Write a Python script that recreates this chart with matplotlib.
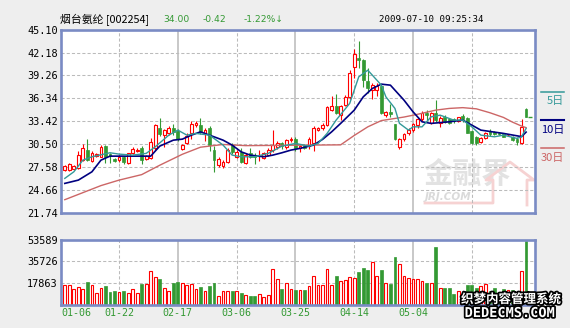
import numpy as np
import matplotlib
matplotlib.use('agg')
from matplotlib import pyplot as plt
from matplotlib.lines import Line2D
from matplotlib.transforms import blended_transform_factory
import matplotlib.patheffects as pe

plt.rcParams['font.family'] = ['DejaVu Sans', 'Noto Sans CJK SC']

# daily K-line 烟台氨纶 [002254]
opens = [27.18, 27.18, 27.30, 27.40, 28.45, 29.80, 28.30, 29.00, 28.90, 30.20,
         29.20, 28.60, 28.45, 28.80, 28.10, 29.30, 29.60, 30.05, 28.65, 28.70,
         30.00, 32.60, 31.65, 31.85, 32.50, 32.15, 29.90, 30.60, 31.85, 32.90,
         32.90, 31.85, 32.60, 29.80, 27.85, 27.75, 28.15, 30.35, 28.90, 29.50,
         28.05, 29.40, 29.10, 28.95, 28.70, 29.10, 29.75, 30.10, 30.60, 30.10,
         31.00, 31.20, 29.95, 30.35, 30.25, 30.65, 32.35, 32.50, 32.90, 34.90,
         35.30, 34.20, 35.45, 36.50, 40.30, 41.50, 41.20, 38.55, 37.40, 37.40,
         37.90, 34.20, 34.60, 33.05, 30.10, 31.10, 31.90, 32.35, 32.90, 33.65,
         34.49, 33.14, 34.49, 33.14, 33.98, 33.65, 33.65, 33.47, 34.07, 33.77,
         32.19, 31.35, 30.71, 31.22, 32.19, 32.00, 31.90, 31.77, 31.60, 31.35,
         31.10, 30.58, 35.00]
closes = [27.69, 27.95, 27.70, 29.05, 29.95, 28.46, 29.40, 29.20, 30.15, 28.80,
          29.00, 28.35, 28.90, 28.20, 29.30, 29.90, 29.80, 28.50, 29.00, 30.80,
          32.95, 31.80, 32.30, 32.60, 32.05, 31.20, 30.35, 31.55, 33.00, 33.15,
          32.05, 32.25, 30.35, 28.46, 28.65, 28.25, 29.80, 29.50, 29.50, 28.25,
          29.10, 28.90, 28.90, 29.15, 29.40, 29.80, 30.35, 30.65, 30.20, 31.00,
          31.20, 29.95, 30.25, 30.05, 31.10, 32.60, 32.60, 32.90, 35.20, 35.30,
          34.50, 35.30, 36.50, 39.60, 42.05, 41.20, 38.65, 37.70, 38.00, 37.90,
          34.50, 34.60, 34.40, 31.10, 31.10, 31.75, 32.35, 33.05, 33.70, 34.49,
          34.20, 34.49, 33.56, 33.77, 33.34, 33.20, 33.47, 33.90, 33.65, 31.94,
          30.66, 30.58, 31.22, 31.94, 31.77, 31.73, 31.77, 31.43, 31.70, 31.00,
          30.80, 32.70, 34.00]
highs = [27.82, 28.10, 27.80, 29.60, 30.50, 31.10, 29.60, 29.35, 30.35, 30.35,
         29.40, 28.70, 29.10, 29.00, 29.35, 30.10, 29.95, 30.30, 29.10, 31.25,
         33.10, 33.85, 32.45, 32.75, 33.05, 32.40, 30.50, 31.85, 33.40, 33.45,
         33.85, 32.50, 32.80, 30.30, 28.85, 28.45, 29.95, 30.60, 29.70, 29.95,
         29.30, 29.95, 29.35, 29.70, 29.50, 29.95, 32.30, 30.90, 30.80, 31.20,
         31.40, 31.35, 30.35, 30.50, 31.35, 32.80, 32.70, 33.15, 35.35, 36.60,
         36.85, 35.45, 36.75, 39.95, 42.60, 43.65, 41.30, 40.20, 38.30, 38.30,
         38.00, 34.75, 35.60, 33.10, 31.30, 31.95, 32.60, 33.20, 33.90, 34.74,
         34.83, 34.60, 36.11, 34.07, 34.20, 33.80, 33.77, 33.98, 34.32, 33.90,
         32.28, 31.52, 31.35, 32.10, 32.37, 32.20, 32.05, 31.94, 31.77, 31.52,
         31.43, 33.65, 35.10]
lows = [27.05, 27.00, 27.20, 27.30, 28.40, 28.40, 28.20, 28.90, 28.85, 28.10,
        28.05, 28.20, 28.20, 27.90, 27.95, 29.20, 29.50, 27.95, 28.50, 28.60,
        29.75, 31.50, 30.10, 31.70, 31.65, 30.95, 29.70, 30.55, 31.20, 32.65,
        31.75, 30.90, 29.60, 26.96, 27.60, 27.40, 28.05, 29.20, 28.70, 28.10,
        27.90, 28.70, 28.00, 28.40, 28.60, 29.00, 29.50, 29.90, 29.85, 29.85,
        30.80, 29.60, 29.55, 29.85, 29.85, 29.60, 32.20, 32.25, 32.75, 34.75,
        34.30, 33.55, 35.30, 36.20, 38.90, 40.20, 37.80, 37.00, 36.30, 36.70,
        34.30, 33.90, 33.90, 31.00, 29.90, 30.95, 31.65, 32.05, 32.60, 33.47,
        33.56, 33.05, 33.34, 32.63, 33.14, 33.00, 33.14, 33.34, 33.34, 31.86,
        30.50, 30.37, 30.60, 31.10, 31.52, 31.60, 31.60, 31.35, 31.50, 30.85,
        30.37, 30.50, 33.95]
volumes = [15695, 15695, 12448, 14612, 12448, 18942, 16236, 9742, 13801, 14883,
           10012, 10824, 10012, 10824, 9742, 12448, 9742, 16507, 16507, 27872,
           22730, 21377, 13801, 11365, 18130, 18942, 17860, 16236, 17048, 12989,
           14071, 10824, 14883, 18130, 7306, 11365, 11365, 11365, 11365, 9742,
           8118, 7306, 6765, 8930, 5953, 8118, 29225, 21107, 12448, 17860,
           12989, 11636, 12177, 11636, 14883, 23813, 16236, 15695, 29495, 16236,
           23813, 19754, 20566, 22730, 22189, 27060, 30307, 28142, 35178, 23813,
           28684, 17318, 16507, 39237, 33284, 23542, 22189, 21377, 21377, 19754,
           18130, 18130, 47355, 13259, 13259, 13259, 8389, 10824, 9000, 15695,
           15695, 13530, 14883, 17048, 10824, 13259, 10283, 12448, 12177, 11636,
           9000, 27872, 52300]

# moving averages (day index, value)
ma5_idx = [0, 2, 4, 6, 10, 12, 15, 18, 20, 23, 25, 27, 29, 32, 35, 37, 39, 42, 45, 48,
           51, 54, 56, 58, 60, 63, 65, 67, 68, 70, 71, 73, 74, 76, 77, 79, 81, 83, 86, 88,
           90, 92, 95, 97, 100, 101, 102]
ma5_val = [26.12, 26.96, 28.45, 28.88, 29.39, 29.22, 29.09, 29.31, 30.15, 31.64,
           32.28, 31.64, 31.86, 31.64, 30.37, 29.09, 28.88, 28.88, 29.31, 30.24,
           30.58, 30.24, 30.58, 31.86, 33.56, 35.69, 39.08, 39.93, 39.30, 38.02,
           36.53, 35.05, 33.14, 32.28, 32.70, 32.70, 33.98, 34.19, 33.56, 33.56,
           32.70, 31.64, 31.43, 31.64, 31.22, 31.43, 32.50]
ma10_idx = [0, 3, 6, 8, 10, 19, 21, 24, 26, 28, 30, 32, 35, 37, 39, 41, 44, 46, 48, 50,
            52, 55, 57, 59, 61, 64, 66, 68, 70, 72, 75, 77, 79, 81, 85, 88, 90, 92, 97, 101,
            102]
ma10_val = [25.48, 25.90, 26.96, 28.45, 28.96, 28.96, 30.24, 31.00, 31.13, 31.64,
            32.06, 31.64, 31.00, 30.37, 29.51, 29.09, 28.88, 29.09, 29.39, 29.73,
            29.95, 30.37, 31.10, 32.06, 33.14, 34.83, 36.53, 37.60, 38.15, 38.02,
            36.11, 34.62, 33.34, 33.14, 33.34, 33.56, 32.92, 32.28, 31.86, 31.45,
            32.03]
ma30_idx = [0, 4, 8, 12, 17, 21, 26, 30, 35, 40, 61, 64, 67, 70, 75, 78, 82, 85, 88, 91,
            94, 97, 99, 101, 102]
ma30_val = [23.40, 24.30, 25.20, 25.90, 26.60, 27.80, 29.20, 30.10, 30.45, 30.30,
            30.40, 31.60, 32.70, 33.50, 33.95, 34.30, 34.83, 35.05, 35.15, 35.00,
            34.50, 33.90, 33.30, 32.80, 32.60]

# guide lines fall on these days; the last one carries no visible label
date_idx = [0, 12, 25, 38, 51, 64, 77, 90]
date_txt = ['01-06', '01-22', '02-17', '03-06', '03-25', '04-14', '05-04']

price_ticks = [21.74, 24.66, 27.58, 30.50, 33.42, 36.34, 39.26, 42.18, 45.10]
vol_ticks = [17863, 35726, 53589]

RED = '#FF0000'
GREEN = '#339933'
C5, C10, C30 = '#339999', '#000080', '#CC6666'
FRAME = '#7A8BC4'
GRID = '#BBBBBB'
MONO = 'DejaVu Sans Mono'
CJK = ['Noto Sans CJK SC', 'DejaVu Sans']

W, H = 570, 328
fig = plt.figure(figsize=(W / 100, H / 100), dpi=100, facecolor='#EEEEEE')


def box(x0, y0, x1, y1):
    return [x0 / W, 1 - y1 / H, (x1 - x0) / W, (y1 - y0) / H]


def fxy(x, y):
    return x / W, 1 - y / H


ax = fig.add_axes(box(61.3, 29.7, 534.5, 212.7))
axv = fig.add_axes(box(61.3, 239.5, 534.5, 304.5))

o, h, l, c = map(np.asarray, (opens, highs, lows, closes))
v = np.asarray(volumes)
x = np.arange(len(c))
up = c >= o

for a in (ax, axv):
    a.set_facecolor('white')
    a.set_xlim(-0.77, 103.86)
    a.set_xticks([])
    a.tick_params(length=0, pad=2.5)
    for s in a.spines.values():
        s.set_color(FRAME)
        s.set_linewidth(1.9)
        s.set_zorder(6)
    # dashed / solid vertical guides alternate
    for k, g in enumerate(date_idx[1:]):
        if k % 2:
            a.axvline(g, color='#C8C8C8', lw=1.4, zorder=1)
        else:
            a.axvline(g, color=GRID, lw=0.75, ls=(0, (3, 2)), zorder=1)

# price panel
ax.set_ylim(price_ticks[0], price_ticks[-1])
ax.set_yticks(price_ticks)
ax.set_yticklabels(['%.2f' % t for t in price_ticks], fontfamily=MONO, fontsize=7.4)
for t in price_ticks[1:-1]:
    ax.axhline(t, color=GRID, lw=0.75, ls=(0, (3, 2)), zorder=1)

ax.vlines(x, l, h, colors=np.where(up, RED, GREEN), lw=0.8, zorder=2)
body_lo = np.minimum(o, c)
body_h = np.maximum(np.abs(c - o), 0.07)
ax.bar(x[up], body_h[up], bottom=body_lo[up], width=0.62,
       facecolor='white', edgecolor=RED, lw=0.8, zorder=3)
ax.bar(x[~up], body_h[~up], bottom=body_lo[~up], width=0.62,
       facecolor=GREEN, edgecolor=GREEN, lw=0.5, zorder=3)
# last price tick
ax.hlines(c[-1], x[-1] + 0.5, x[-1] + 1.2, color=GREEN, lw=1, zorder=3)

ax.plot(ma30_idx, ma30_val, color=C30, lw=1.0, zorder=4)
ax.plot(ma10_idx, ma10_val, color=C10, lw=1.2, zorder=4)
ax.plot(ma5_idx, ma5_val, color=C5, lw=1.0, zorder=4)

# site logo behind the candles
ax.text(*fxy(467, 175), '金融界', transform=fig.transFigure, family=CJK,
        fontsize=21, fontweight='bold', color='#E2E2E2', ha='center', va='center', zorder=0.5)
ax.text(*fxy(425, 197), 'JRJ.COM', transform=fig.transFigure, fontsize=7.5,
        fontweight='bold', style='italic', color='#DADADA', ha='left', va='center', zorder=0.5)
px = [425, 493, 493, 486, 510, 534, 527, 527]
py = [203, 203, 180, 180, 162, 180, 180, 205]
ax.add_line(Line2D([p / W for p in px], [1 - q / H for q in py], transform=fig.transFigure,
                   color='#F6D2D2', lw=2, zorder=0.5))

# volume panel
axv.set_ylim(0, vol_ticks[-1])
axv.set_yticks(vol_ticks)
axv.set_yticklabels([str(t) for t in vol_ticks], fontfamily=MONO, fontsize=7.4)
for t in vol_ticks[:-1]:
    axv.axhline(t, color=GRID, lw=0.75, ls=(0, (3, 2)), zorder=1)
axv.bar(x[up], v[up], width=0.62, facecolor='white', edgecolor=RED, lw=0.8, zorder=3)
axv.bar(x[~up], v[~up], width=0.62, facecolor=GREEN, edgecolor=GREEN, lw=0.5, zorder=3)

trans = blended_transform_factory(axv.transData, fig.transFigure)
for k, (i, s) in enumerate(zip(date_idx, date_txt)):
    if k == 0:
        fig.text(-0.77, 1 - 312.5 / H, s, transform=trans, ha='left', va='center',
                 color=GREEN, family=MONO, fontsize=7.2)
    else:
        fig.text(i, 1 - 312.5 / H, s, transform=trans, ha='center', va='center',
                 color=GREEN, family=MONO, fontsize=7.2)

# header
fig.text(*fxy(60, 19.5), '烟台氨纶 [002254]', family=CJK, fontsize=7.8, va='center')
fig.text(*fxy(163, 19.5), '34.00', color=GREEN, fontsize=6.6, va='center')
fig.text(*fxy(203, 19.5), '-0.42', color=GREEN, fontsize=6.6, va='center')
fig.text(*fxy(244, 19.5), '-1.22%↓', color=GREEN, fontsize=6.6, va='center')
fig.text(*fxy(379, 19.5), '2009-07-10 09:25:34', family=MONO, fontsize=6.6, va='center')

# MA legend on the right
for y_line, label, col, lw in [(91.7, '5日', C5, 1.1), (120, '10日', C10, 1.5),
                               (148.3, '30日', C30, 1.1)]:
    fig.add_artist(Line2D([541 / W, 564 / W], [1 - y_line / H] * 2,
                          transform=fig.transFigure, color=col, lw=lw))
    fig.text(*fxy(564, y_line + 9.5), label, family=CJK, fontsize=8, color=col,
             ha='right', va='center')

# overlay stamp in the bottom corner
stroke = [pe.withStroke(linewidth=2.5, foreground='black')]
fig.text(*fxy(511, 299.5), '织梦内容管理系统', family=CJK, fontsize=9, fontweight='bold',
         color='white', ha='center', va='center', path_effects=stroke, zorder=10)
fig.text(*fxy(510, 313), 'DEDECMS.COM', family=MONO, fontsize=9.8, fontweight='bold',
         color='white', ha='center', va='center', path_effects=stroke, zorder=10)

fig.savefig('out.png', dpi=100, facecolor=fig.get_facecolor())
